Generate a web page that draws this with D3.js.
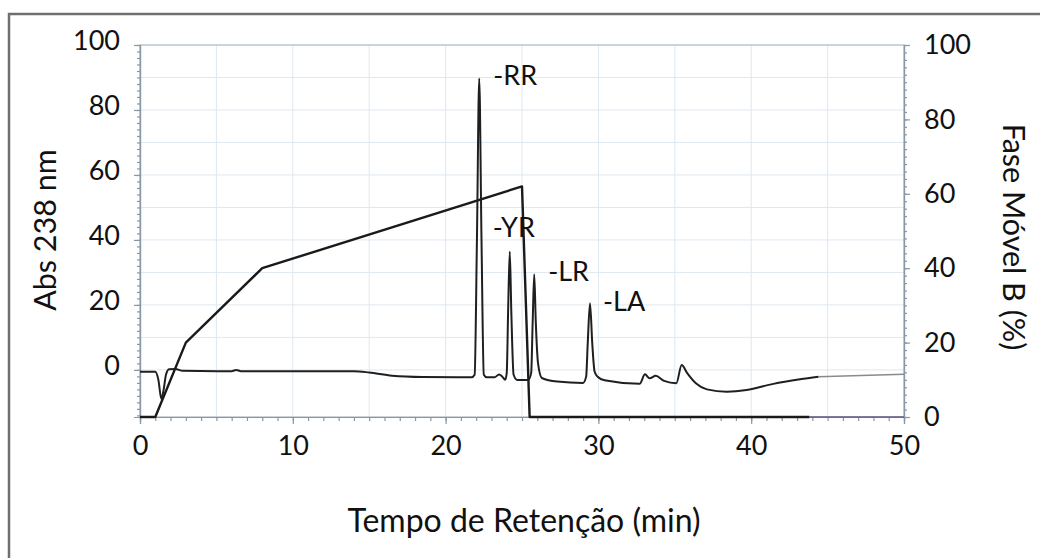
<!DOCTYPE html>
<html>
<head>
<meta charset="utf-8">
<script src="https://cdn.jsdelivr.net/npm/d3@7"></script>
<style>
  body { margin: 0; background: #fff; }
  svg { display: block; }
  text { font-family: Lato, "Open Sans", sans-serif; fill: #111; }
</style>
</head>
<body>
<svg id="chart" width="1040" height="558"></svg>
<script>
// Chromatogram, absorbance at 238 nm (left axis) vs retention time (min)
const retentionTime = [0, 1.0, 1.2, 1.4, 1.55, 1.7, 1.9, 2.3, 2.8, 6.0, 6.3, 6.6, 14.0, 15.0, 16.5, 18.5, 21.7, 21.9,
  22.05, 22.2, 22.35, 22.5, 22.7, 23.2, 23.5, 23.7, 23.9, 24.0, 24.1, 24.2, 24.3, 24.45, 24.7, 25.4, 25.6, 25.7,
  25.8, 25.9, 26.05, 26.3, 27.3, 29.0, 29.2, 29.3, 29.45, 29.6, 29.75, 29.95, 30.4, 32.7, 33.05, 33.35, 33.75,
  34.3, 35.1, 35.45, 35.8, 36.4, 37.1, 38.4, 39.7, 41.45, 43.2, 44.4];
const absorbance = [-0.6, -0.6, -3, -9.0, -6, -1.5, 0.2, 0.3, -0.3, -0.4, 0.0, -0.4, -0.4, -0.8, -1.8, -2.2, -2.3, -1.5,
  40, 89.7, 40, -1.5, -2.3, -2.3, -1.4, -2.0, -3.0, -1, 20, 36.4, 18, -1.5, -3.1, -3.1, -1, 15,
  29.4, 15, 2, -2.5, -3.6, -4.0, -2, 8, 20.5, 8, -0.5, -2.1, -3.2, -4.3, -1.35, -2.6, -1.8,
  -3.4, -4.1, 1.5, -0.9, -4.2, -6.0, -6.7, -6.2, -4.3, -2.9, -2.1];
// end of the recorded trace
const tailTime = [44.4, 50];
const tailAbs = [-2.1, -1.35];

// Mobile phase B gradient (%), right axis
const gradientTime = [0, 1.0, 3, 8, 25, 25.5, 43.8];
const gradientB = [0, 0, 20, 40, 62, 0, 0];
const gradientTailTime = [43.8, 50];
const gradientTailB = [0, 0];

// Peak annotations
const peakNames = ["-RR", "-YR", "-LR", "-LA"];
const peakTimes = [22.2, 24.2, 25.8, 29.45];
const peakAbs = [89.7, 36.4, 29.4, 20.5];

// Tick labels
const xTicks = [0, 10, 20, 30, 40, 50];
const leftTicks = [0, 20, 40, 60, 80, 100];
const rightTicks = [0, 20, 40, 60, 80, 100];

const xTitle = "Tempo de Retenção (min)";
const yLeftTitle = "Abs 238 nm";
const yRightTitle = "Fase Móvel B (%)";

// ---- layout ----
const svg = d3.select("#chart");
const plot = { left: 140, right: 904, top: 45, bottom: 417 };

const x = d3.scaleLinear().domain([0, 50]).range([plot.left, plot.right]);
const yL = d3.scaleLinear().domain([-14.5, 100]).range([plot.bottom, plot.top]);
const yR = d3.scaleLinear().domain([0, 100]).range([plot.bottom, plot.top]);

const axisColor = "#8797a6";
const gridColor = "#dfe8f0";
const fontSize = 27;

// outer frame
svg.append("rect")
  .attr("x", 9).attr("y", 14).attr("width", 1100).attr("height", 600)
  .attr("fill", "none").attr("stroke", "#6f6f6f").attr("stroke-width", 2.5);

// gridlines
const grid = svg.append("g");
grid.selectAll("line.v").data(d3.range(5, 50, 5)).join("line")
  .attr("x1", d => x(d)).attr("x2", d => x(d))
  .attr("y1", plot.top).attr("y2", plot.bottom)
  .attr("stroke", gridColor).attr("stroke-width", 1);
grid.selectAll("line.h").data(d3.range(0, 100, 10)).join("line")
  .attr("x1", plot.left).attr("x2", plot.right)
  .attr("y1", d => yL(d)).attr("y2", d => yL(d))
  .attr("stroke", gridColor).attr("stroke-width", 1);

// plot-area border
svg.append("rect")
  .attr("x", plot.left).attr("y", plot.top)
  .attr("width", plot.right - plot.left).attr("height", plot.bottom - plot.top)
  .attr("fill", "none").attr("stroke", "#9aa7b3").attr("stroke-width", 1);

function styleAxis(g) {
  g.select(".domain").attr("stroke", axisColor).attr("stroke-width", 1.2);
  g.selectAll(".tick line").attr("stroke", axisColor).attr("stroke-width", 1.2);
  g.selectAll(".tick text").style("font-size", fontSize + "px").attr("fill", "#111");
}

// minor ticks
svg.append("g").attr("transform", `translate(${plot.left},0)`)
  .call(d3.axisLeft(yL).tickValues(d3.range(-14, 101, 2)).tickSize(3).tickFormat(""))
  .call(styleAxis);
svg.append("g").attr("transform", `translate(${plot.right},0)`)
  .call(d3.axisRight(yR).tickValues(d3.range(0, 101, 2)).tickSize(3).tickFormat(""))
  .call(styleAxis);
svg.append("g").attr("transform", `translate(0,${plot.bottom})`)
  .call(d3.axisBottom(x).tickValues(d3.range(0, 51, 1)).tickSize(4).tickFormat(""))
  .call(styleAxis);

// major ticks and labels
svg.append("g").attr("transform", `translate(${plot.left},0)`)
  .call(d3.axisLeft(yL).tickValues(leftTicks).tickSize(6).tickPadding(14))
  .call(styleAxis)
  .call(g => g.selectAll(".tick text").attr("dy", "0.32em").attr("y", -4));
svg.append("g").attr("transform", `translate(${plot.right},0)`)
  .call(d3.axisRight(yR).tickValues(rightTicks).tickSize(6).tickPadding(14))
  .call(styleAxis);
svg.append("g").attr("transform", `translate(0,${plot.bottom})`)
  .call(d3.axisBottom(x).tickValues(xTicks).tickSize(7).tickPadding(12))
  .call(styleAxis);

// axis titles
svg.append("text")
  .attr("transform", `translate(${(plot.left + plot.right) / 2 + 2},532)`)
  .attr("text-anchor", "middle").style("font-size", "32px").text(xTitle);
svg.append("text")
  .attr("transform", "translate(56,230) rotate(-90)")
  .attr("text-anchor", "middle").style("font-size", "30.5px").text(yLeftTitle);
svg.append("text")
  .attr("transform", "translate(1003,237) rotate(90)")
  .attr("text-anchor", "middle").style("font-size", "30.5px").text(yRightTitle);

// gradient line
const gradientLine = d3.line().x(d => x(d[0])).y(d => yR(d[1]));
svg.append("path")
  .datum(d3.zip(gradientTailTime, gradientTailB))
  .attr("d", gradientLine).attr("fill", "none")
  .attr("stroke", "#6a5a8c").attr("stroke-width", 1.6);
svg.append("path")
  .datum(d3.zip(gradientTime, gradientB))
  .attr("d", gradientLine).attr("fill", "none")
  .attr("stroke", "#1a1a1a").attr("stroke-width", 2.4).attr("stroke-linejoin", "round");

// chromatogram
const absLine = d3.line().x(d => x(d[0])).y(d => yL(d[1])).curve(d3.curveMonotoneX);
svg.append("path")
  .datum(d3.zip(tailTime, tailAbs))
  .attr("d", absLine).attr("fill", "none")
  .attr("stroke", "#8a8a8a").attr("stroke-width", 1.6);
svg.append("path")
  .datum(d3.zip(retentionTime, absorbance))
  .attr("d", absLine).attr("fill", "none")
  .attr("stroke", "#1f1f1f").attr("stroke-width", 2).attr("stroke-linejoin", "round");

// peak labels
const labelShift = { "-RR": [14, -3], "-YR": [-17, -24], "-LR": [14, -3], "-LA": [13, -2] };
svg.append("g").selectAll("text")
  .data(d3.range(peakNames.length)).join("text")
  .attr("x", i => x(peakTimes[i]) + labelShift[peakNames[i]][0])
  .attr("y", i => yL(peakAbs[i]) + labelShift[peakNames[i]][1])
  .attr("dy", "0.35em")
  .style("font-size", "27px")
  .text(i => peakNames[i]);
</script>
</body>
</html>
